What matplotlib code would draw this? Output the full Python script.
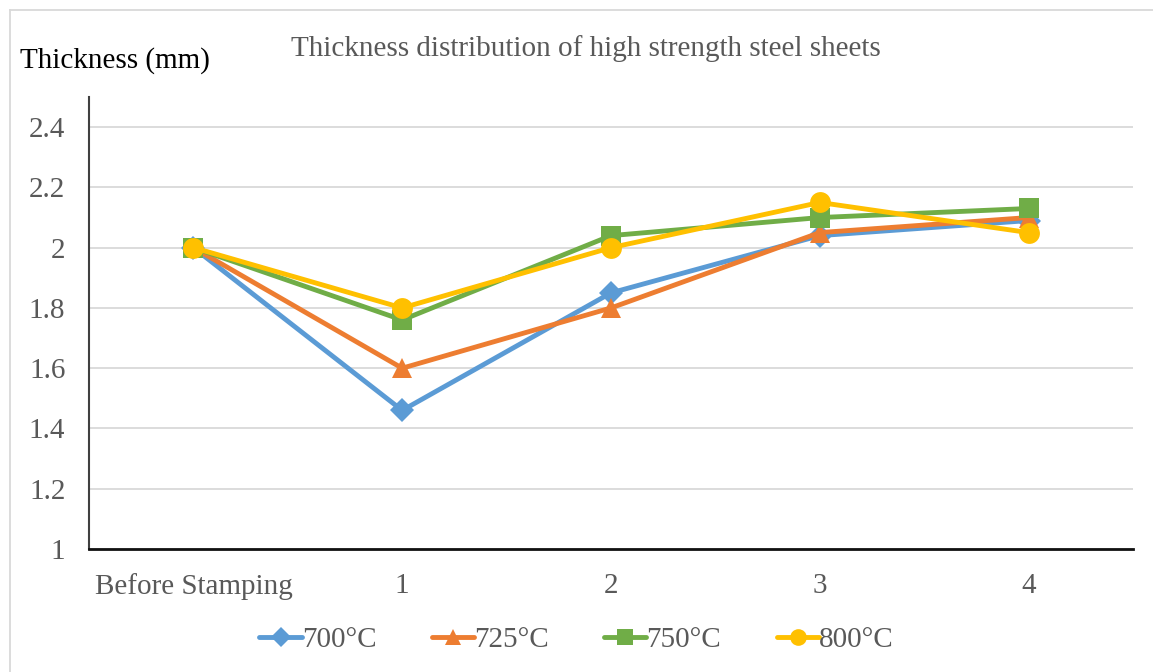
import matplotlib.pyplot as plt
from matplotlib.lines import Line2D

categories = ["Before Stamping", "1", "2", "3", "4"]
t700 = [2.0, 1.46, 1.85, 2.04, 2.09]
t725 = [2.0, 1.60, 1.80, 2.05, 2.10]
t750 = [2.0, 1.76, 2.04, 2.10, 2.13]
t800 = [2.0, 1.80, 2.00, 2.15, 2.05]
labels = ["700°C", "725°C", "750°C", "800°C"]
yticks = [1, 1.2, 1.4, 1.6, 1.8, 2, 2.2, 2.4]
ytick_labels = ["1", "1.2", "1.4", "1.6", "1.8", "2", "2.2", "2.4"]

plt.rcParams["font.family"] = ["Liberation Serif", "DejaVu Serif"]
FS = 21

fig = plt.figure(figsize=(11.53, 6.72), dpi=100)
ax = fig.add_axes([89 / 1153, 1 - 549 / 672, (1133 - 89) / 1153, (549 - 97) / 672])

styles = [
    (t700, "#5B9BD5", "D", 12.5),
    (t725, "#ED7D31", "^", 15),
    (t750, "#70AD47", "s", 14.5),
    (t800, "#FFC000", "o", 15),
]
x = list(range(len(categories)))
handles = []
for (vals, color, marker, ms), lab in zip(styles, labels):
    ax.plot(x, vals, color=color, lw=3.5, marker=marker, markersize=ms,
            markeredgewidth=0, zorder=3)
    handles.append(Line2D([], [], color=color, lw=3.5, marker=marker,
                          markersize=ms * 0.8, markeredgewidth=0,
                          solid_capstyle="round", label=lab))

ax.set_xlim(-0.5, 4.5)
ax.set_ylim(1, 2.5)
ax.set_yticks(yticks)
ax.set_yticklabels(ytick_labels)
ax.set_xticks(x)
ax.set_xticklabels(categories)
ax.tick_params(length=0, labelsize=FS, colors="#595959")
ax.tick_params(axis="y", pad=17)
ax.tick_params(axis="x", pad=17)
ax.grid(axis="y", color="#D9D9D9", lw=1.3)
ax.set_axisbelow(True)
for side in ("top", "right"):
    ax.spines[side].set_visible(False)
ax.spines["left"].set_color("#404040")
ax.spines["left"].set_linewidth(1.5)
ax.spines["bottom"].set_color("#111111")
ax.spines["bottom"].set_linewidth(2)

fig.text(20 / 1153, 1 - 61 / 672, "Thickness (mm)", fontsize=FS,
         color="black", va="center", ha="left")
fig.text(586 / 1153, 1 - 49 / 672, "Thickness distribution of high strength steel sheets",
         fontsize=FS, color="#595959", va="center", ha="center")

fig.legend(handles=handles, loc="center", bbox_to_anchor=(0.5, 1 - 640 / 672),
           ncol=4, frameon=False, fontsize=FS, handlelength=1.45,
           handletextpad=0.0, columnspacing=1.9, labelcolor="#595959")

# light frame around chart area
fig.add_artist(Line2D([10 / 1153, 10 / 1153], [0, 1 - 10 / 672],
                      transform=fig.transFigure, color="#D9D9D9", lw=1.3))
fig.add_artist(Line2D([10 / 1153, 1], [1 - 10 / 672, 1 - 10 / 672],
                      transform=fig.transFigure, color="#D9D9D9", lw=1.3))

fig.savefig("out.png", dpi=100, facecolor="white")
